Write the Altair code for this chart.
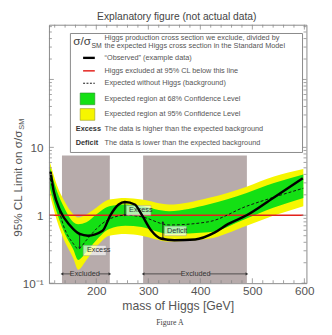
import altair as alt
import pandas as pd

FONT = "Liberation Sans, Arial, Helvetica, sans-serif"
W, H = 264, 265
X_DOMAIN = [109, 604]
Y_DOMAIN = [0.1, 640]

# ---------------- data ----------------
band_mass = [111, 125, 137, 156, 165, 181, 200, 225, 256, 287, 340, 415, 489, 540, 598]
yellow_hi = [6.0, 2.7, 1.70, 1.03, 0.93, 1.03, 1.29, 1.70, 1.80, 1.70, 1.44, 1.80, 2.64, 3.68, 4.8]
green_hi = [5.0, 2.2, 1.36, 0.79, 0.74, 0.79, 1.03, 1.36, 1.44, 1.36, 1.15, 1.44, 2.12, 2.95, 4.0]
green_lo = [2.5, 1.05, 0.59, 0.31, 0.22, 0.29, 0.43, 0.63, 0.70, 0.67, 0.53, 0.56, 0.90, 1.29, 1.80]
yellow_lo = [2.0, 0.8, 0.45, 0.23, 0.158, 0.22, 0.34, 0.50, 0.53, 0.50, 0.41, 0.45, 0.70, 0.98, 1.36]
expected = [3.5, 1.5, 0.70, 0.38, 0.32, 0.43, 0.63, 0.88, 1.0, 0.95, 0.72, 0.80, 1.36, 1.83, 2.5]

obs_mass = [112, 118, 131, 150, 168, 184, 212, 227, 243, 255, 274, 287, 306, 325, 350, 390, 428, 453, 489, 540, 597]
observed = [4.4, 2.3, 1.15, 0.70, 0.53, 0.50, 0.59, 1.0, 1.44, 1.57, 1.44, 1.03, 0.59, 0.45, 0.43, 0.44, 0.56, 0.74, 1.0, 1.8, 3.5]

limit_mass = [110, 598]
limit_val = [1, 1]

excl_start = [134, 290]
excl_end = [226, 489.5]
excl_top = [7.6, 7.6]

# double arrows (Excess / Deficit)
arrow_mass = [168, 255, 328]
arrow_top = [0.53, 1.57, 0.79]
arrow_bot = [0.33, 1.0, 0.45]
arrow_label = ["Excess", "Excess", "Deficit"]
label_mass = [182, 263, 336]
label_val = [0.303, 1.18, 0.589]
label_box_m0 = [175, 258, 331]
label_box_m1 = [219, 305, 373]
label_box_lo = [0.255, 1.0, 0.50]
label_box_hi = [0.36, 1.39, 0.69]

# "Excluded" arrows
excl_label_mass = [178, 391]
excl_seg_m0 = [134, 205, 290, 418]
excl_seg_m1 = [151, 226, 364, 489.5]
excl_arrow_y = 0.137

x_major = [200, 300, 400, 500, 600]
x_minor = [m for m in range(120, 601, 20) if m % 100 != 0]
y_major = [0.1, 1, 10, 100]
y_minor = [d * k for d in (0.1, 1, 10, 100) for k in range(2, 10) if d * k < 640]

# ---------------- scales / axes ----------------
xscale = alt.Scale(domain=X_DOMAIN, nice=False, zero=False)
yscale = alt.Scale(type="log", domain=Y_DOMAIN, nice=False)
xaxis = alt.Axis(values=x_major, title="mass of Higgs [GeV]", grid=False, ticks=False,
                 domain=False, labelFont=FONT, labelFontSize=12, labelColor="#555",
                 labelPadding=3, titleFont=FONT, titleFontSize=12.5,
                 titleFontWeight="normal", titleColor="#555", titlePadding=3)
yaxis = alt.Axis(values=[0.1, 1, 10], title=None, grid=False, ticks=False, domain=False,
                 labelExpr="datum.value < 0.5 ? '10⁻¹' : (datum.value < 5 ? '1' : '10')",
                 labelFont=FONT, labelFontSize=12, labelColor="#555", labelPadding=6)


def X(f="m"):
    return alt.X(f"{f}:Q", scale=xscale, axis=xaxis)


def Y(f="v"):
    return alt.Y(f"{f}:Q", scale=yscale, axis=yaxis)


bands = pd.DataFrame({"m": band_mass, "yl": yellow_lo, "yh": yellow_hi,
                      "gl": green_lo, "gh": green_hi, "e": expected})
obs = pd.DataFrame({"m": obs_mass, "v": observed})
lim = pd.DataFrame({"m": limit_mass, "v": limit_val})
excl = pd.DataFrame({"m": excl_start, "m1": excl_end, "v": [0.1, 0.1], "v1": excl_top})

layers = []
layers.append(alt.Chart(excl).mark_rect(color="#b7abab").encode(
    x=X("m"), x2="m1", y=Y("v"), y2="v1"))
layers.append(alt.Chart(bands).mark_area(color="#f6f600", interpolate="monotone").encode(
    x=X(), y=Y("yl"), y2="yh"))
layers.append(alt.Chart(bands).mark_area(color="#14e014", interpolate="monotone").encode(
    x=X(), y=Y("gl"), y2="gh"))
layers.append(alt.Chart(lim).mark_line(color="#e3201b", strokeWidth=1.5).encode(
    x=X(), y=Y()))
layers.append(alt.Chart(bands).mark_line(color="#111", strokeWidth=1, strokeDash=[3, 2],
                                          interpolate="monotone").encode(x=X(), y=Y("e")))

# annotation arrows
arr = pd.DataFrame({"m": arrow_mass, "v": arrow_top, "v1": arrow_bot})
layers.append(alt.Chart(arr).mark_rule(color="#222", strokeWidth=1).encode(
    x=X(), y=Y(), y2="v1"))
tips = pd.DataFrame({
    "m": arrow_mass * 2,
    "v": arrow_top + arrow_bot,
    "d": ["up"] * 3 + ["down"] * 3,
})
shape_scale = alt.Scale(domain=["up", "down", "left", "right"],
                        range=["triangle-up", "triangle-down", "triangle-left", "triangle-right"])
layers.append(alt.Chart(tips).mark_point(filled=True, size=10, color="#222", opacity=1).encode(
    x=X(), y=Y(), shape=alt.Shape("d:N", scale=shape_scale, legend=None)))
boxes = pd.DataFrame({"m": label_box_m0, "m1": label_box_m1, "v": label_box_lo, "v1": label_box_hi})
layers.append(alt.Chart(boxes).mark_rect(fill="white", fillOpacity=0.65, stroke="#9a9a9a",
                                          strokeWidth=0.5).encode(
    x=X(), x2="m1", y=Y(), y2="v1"))
labs = pd.DataFrame({"m": label_mass, "v": label_val, "t": arrow_label})
layers.append(alt.Chart(labs).mark_text(align="left", baseline="middle", font=FONT,
                                         fontSize=7.5, fill="#333").encode(
    x=X(), y=Y(), text="t:N"))

# black observed line
layers.append(alt.Chart(obs).mark_line(color="#000", strokeWidth=2.5, interpolate="monotone").encode(
    x=X(), y=Y()))

# Excluded arrows
segs = pd.DataFrame({"m": excl_seg_m0, "m1": excl_seg_m1, "v": [excl_arrow_y] * 4})
layers.append(alt.Chart(segs).mark_rule(color="#333", strokeWidth=0.8).encode(
    x=X(), x2="m1", y=Y()))
etips = pd.DataFrame({"m": [134, 226, 290, 489.5], "v": [excl_arrow_y] * 4,
                      "d": ["left", "right", "left", "right"]})
layers.append(alt.Chart(etips).mark_point(filled=True, size=10, color="#333", opacity=1).encode(
    x=X(), y=Y(), shape=alt.Shape("d:N", scale=shape_scale, legend=None)))
elabs = pd.DataFrame({"m": excl_label_mass, "v": [excl_arrow_y] * 2, "t": ["Excluded", "Excluded"]})
layers.append(alt.Chart(elabs).mark_text(align="center", baseline="middle", font=FONT,
                                          fontSize=7.5, fill="#333").encode(
    x=X(), y=Y(), text="t:N"))

# inward ticks
TC = "#888"
for mt, ln in ((x_major, 5), (x_minor, 3)):
    d = pd.DataFrame({"m": mt})
    layers.append(alt.Chart(d).mark_rule(color=TC, strokeWidth=0.8).encode(
        x=X(), y=alt.value(H), y2=alt.value(H - ln)))
    layers.append(alt.Chart(d).mark_rule(color=TC, strokeWidth=0.8).encode(
        x=X(), y=alt.value(0), y2=alt.value(ln)))
for vt, ln in ((y_major, 5), (y_minor, 3)):
    d = pd.DataFrame({"v": vt})
    layers.append(alt.Chart(d).mark_rule(color=TC, strokeWidth=0.8).encode(
        y=Y(), x=alt.value(0), x2=alt.value(ln)))
    layers.append(alt.Chart(d).mark_rule(color=TC, strokeWidth=0.8).encode(
        y=Y(), x=alt.value(W - ln), x2=alt.value(W)))

# ---------------- legend box (pixel layout) ----------------
one = pd.DataFrame({"a": [0]})
layers.append(alt.Chart(one).mark_rect(fill="white", stroke="#888", strokeWidth=1).encode(
    x=alt.value(22), x2=alt.value(260), y=alt.value(9), y2=alt.value(131)))


def txt(s, x, y, size=7.5, weight="normal", color="#555", align="left", angle=0, font=FONT):
    kw = dict(align=align, baseline="middle", font=font, fontSize=size,
              fontWeight=weight, fill=color, text=s)
    if angle:
        kw["angle"] = angle
    return alt.Chart(one).mark_text(**kw).encode(x=alt.value(x), y=alt.value(y))


legend_lines = [
    ("“Observed” (example data)", 34),
    ("Higgs excluded at 95% CL below this line", 47.3),
    ("Expected without Higgs  (background)", 60),
    ("Expected region at 68% Confidence Level", 76),
    ("Expected region at 95% Confidence Level", 92),
    ("The data is higher than the expected background", 107),
    ("The data is lower than the expected background", 121),
]
layers.append(txt("σ/σ", 25, 17, size=12, color="#444"))
layers.append(txt("SM", 43.5, 21.5, size=7, color="#444"))
layers.append(txt("Higgs production cross section we exclude, divided by", 57, 14))
layers.append(txt("the expected Higgs cross section in the Standard Model", 57, 21.7))
for s, yy in legend_lines:
    layers.append(txt(s, 57, yy))
layers.append(txt("Excess", 27.5, 107, weight="bold", color="#333"))
layers.append(txt("Deficit", 27.5, 121, weight="bold", color="#333"))

layers.append(alt.Chart(one).mark_rule(color="#000", strokeWidth=2.4).encode(
    x=alt.value(35), x2=alt.value(47), y=alt.value(34)))
layers.append(alt.Chart(one).mark_rule(color="#e3201b", strokeWidth=1.5).encode(
    x=alt.value(35), x2=alt.value(47), y=alt.value(47.3)))
layers.append(alt.Chart(one).mark_rule(color="#111", strokeWidth=1, strokeDash=[2, 1.5]).encode(
    x=alt.value(35), x2=alt.value(47), y=alt.value(60)))
layers.append(alt.Chart(one).mark_rect(fill="#14e014", stroke="#2a8a2a", strokeWidth=0.6).encode(
    x=alt.value(32), x2=alt.value(47), y=alt.value(70), y2=alt.value(82)))
layers.append(alt.Chart(one).mark_rect(fill="#f6f600", stroke="#9a9a20", strokeWidth=0.6).encode(
    x=alt.value(32), x2=alt.value(47), y=alt.value(86), y2=alt.value(98)))

# titles
layers.append(txt("Explanatory figure (not actual data)", 131, -8, size=10.5, color="#444",
                  align="center"))
layers.append(txt("95% CL Limit on σ/σ", -32, 163, size=12, color="#555", align="center",
                  angle=270))
layers.append(txt("SM", -27.5, 102, size=7.5, color="#555", align="center", angle=270))
layers.append(txt("Figure A", 124, 306, size=8, color="#444", align="center",
                  font="Liberation Serif, DejaVu Serif, serif"))

chart = alt.layer(*layers).properties(
    width=W, height=H, autosize="none",
    padding={"left": 42, "top": 13, "right": 18, "bottom": 49},
).configure_view(stroke="#888", strokeWidth=1)

chart.save("out.html", embed_options={"renderer": "svg", "actions": False})
